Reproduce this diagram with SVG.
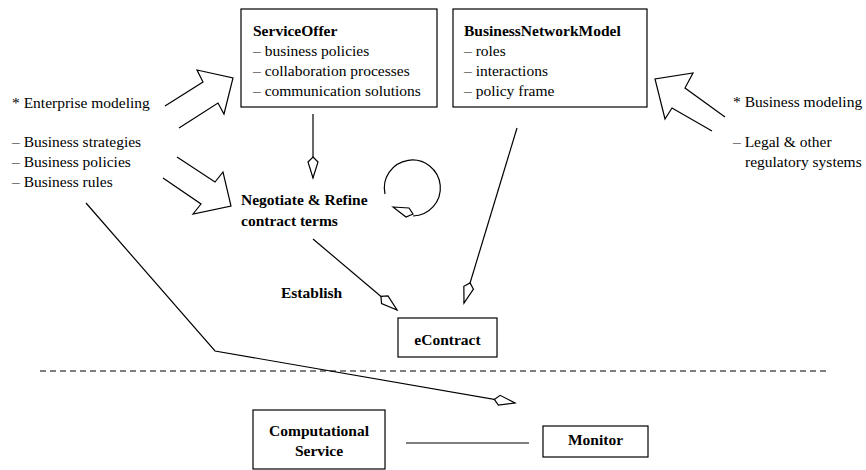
<svg xmlns="http://www.w3.org/2000/svg" width="866" height="470" viewBox="0 0 866 470">
<style>
text{font-family:"Liberation Serif","Times New Roman",serif;font-size:15.5px;fill:#000}
.b{font-weight:bold}
.box{fill:#fff;stroke:#000;stroke-width:1.2}
.ln{fill:none;stroke:#000;stroke-width:1.2}
.kite{fill:#fff;stroke:#000;stroke-width:1.2}
.blk{fill:none;stroke:#000;stroke-width:1.2;stroke-linejoin:miter}
</style>
<defs>
<marker id="kite" markerUnits="userSpaceOnUse" viewBox="-1 -7 24 14" refX="21" refY="0" markerWidth="24" markerHeight="14" orient="auto">
<path d="M0,0 L5,-5 L21,0 L5,5 Z" fill="#fff" stroke="#000" stroke-width="1.2"/>
</marker>
</defs>

<g id="connectors">
<line class="ln" x1="313" y1="114" x2="313" y2="178" marker-end="url(#kite)"/>
<line class="ln" x1="313" y1="239" x2="397" y2="310" marker-end="url(#kite)"/>
<line class="ln" x1="517" y1="128" x2="464" y2="303" marker-end="url(#kite)"/>
<polyline class="ln" points="86,203 215,351 515,403" marker-end="url(#kite)"/>
<line class="ln" x1="406" y1="443" x2="529" y2="443"/>
<path class="ln" d="M385,194 A28,28 0 1 1 413,216"/>
<polygon class="kite" points="393,207 409,208 413,214 406,217"/>
<path class="blk" d="M165,106 L203,82 L197,70 L233,78 L224,114 L218,103 L179,128"/>
<path class="blk" d="M177,157 L215,182 L223,172 L231,206 L193,214 L201,204 L163,178"/>
<path class="blk" d="M725,117 L685,88 L693,73 L655,79 L665,119 L672,108 L712,131"/>
<line x1="40" y1="371" x2="828" y2="371" stroke="#000" stroke-width="1" stroke-dasharray="6,4"/>
</g>

<g id="ServiceOffer">
<rect class="box" x="241" y="9" width="196" height="98"/>
<text x="253" y="36" class="b">ServiceOffer</text>
<text x="253" y="56">– business policies</text>
<text x="253" y="76">– collaboration processes</text>
<text x="253" y="96">– communication solutions</text>
</g>

<g id="BusinessNetworkModel">
<rect class="box" x="453" y="9" width="194" height="98"/>
<text x="464" y="36" class="b">BusinessNetworkModel</text>
<text x="464" y="56">– roles</text>
<text x="464" y="76">– interactions</text>
<text x="464" y="96">– policy frame</text>
</g>

<g id="LeftInputs">
<text x="12" y="108">* Enterprise modeling</text>
<text x="12" y="147">– Business strategies</text>
<text x="12" y="167">– Business policies</text>
<text x="12" y="187">– Business rules</text>
</g>

<g id="RightInputs">
<text x="733" y="107">* Business modeling</text>
<text x="733" y="147">– Legal &amp; other</text>
<text x="745" y="167">regulatory systems</text>
</g>

<g id="Negotiate">
<text x="241" y="205" class="b">Negotiate &amp; Refine</text>
<text x="241" y="226" class="b">contract terms</text>
</g>

<g id="EstablishLabel">
<text x="281" y="298" class="b">Establish</text>
</g>

<g id="eContract">
<rect class="box" x="398" y="318" width="99" height="39"/>
<text x="447.5" y="345" class="b" text-anchor="middle">eContract</text>
</g>

<g id="ComputationalService">
<rect class="box" x="253" y="410" width="132" height="59"/>
<text x="319" y="436" class="b" text-anchor="middle">Computational</text>
<text x="319" y="456" class="b" text-anchor="middle">Service</text>
</g>

<g id="Monitor">
<rect class="box" x="543" y="426" width="105" height="31"/>
<text x="595.5" y="445" class="b" text-anchor="middle">Monitor</text>
</g>
</svg>
